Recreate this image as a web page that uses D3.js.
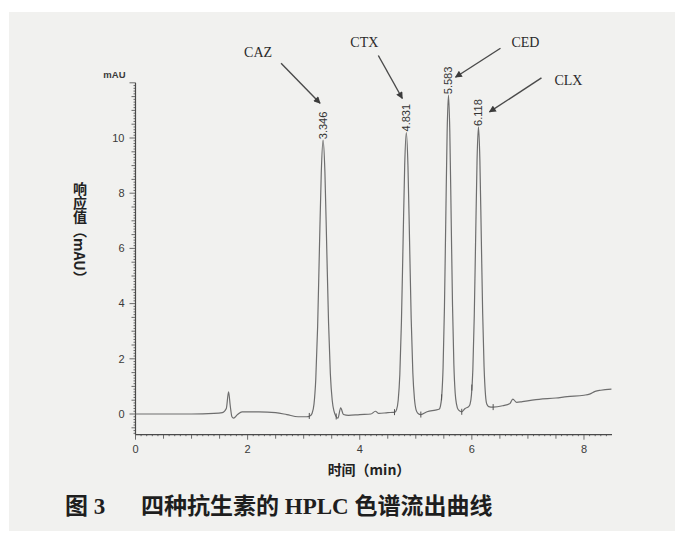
<!DOCTYPE html>
<html>
<head>
<meta charset="utf-8">
<script src="https://cdn.jsdelivr.net/npm/d3@7"></script>
<style>
  html, body { margin: 0; padding: 0; background: #ffffff; }
  svg { display: block; }
</style>
</head>
<body>
<svg id="chart" width="684" height="539"></svg>
<script>
// trace: [time (min), response (mAU)]
const trace = [
  [0.00, 0.00], [0.50, 0.00], [1.00, 0.00], [1.40, 0.02], [1.55, 0.05],
  [1.62, 0.20], [1.66, 0.80], [1.69, 0.30], [1.72, -0.10], [1.75, -0.15],
  [1.82, -0.02], [1.90, 0.08], [2.20, 0.08], [2.50, 0.05], [2.70, -0.02],
  [2.90, -0.10], [3.05, -0.10],
  [3.118, -0.06], [3.151, 0.03], [3.184, 0.36], [3.216, 1.27], [3.249, 3.17],
  [3.281, 5.99], [3.314, 8.75], [3.346, 9.92], [3.379, 8.75], [3.411, 6.05],
  [3.444, 3.30], [3.476, 1.45], [3.509, 0.50], [3.541, 0.10], [3.575, -0.08],
  [3.61, -0.15], [3.66, 0.22], [3.71, -0.02], [3.80, -0.05], [4.00, -0.02],
  [4.20, 0.00], [4.28, 0.10], [4.34, 0.02], [4.50, 0.05], [4.60, 0.06],
  [4.628, 0.07], [4.657, 0.16], [4.686, 0.50], [4.715, 1.42], [4.744, 3.35],
  [4.773, 6.21], [4.802, 9.01], [4.831, 10.20], [4.860, 9.01], [4.889, 6.25],
  [4.918, 3.45], [4.947, 1.50], [4.976, 0.55], [5.005, 0.15], [5.04, 0.02],
  [5.09, -0.02], [5.20, 0.08], [5.35, 0.14],
  [5.415, 0.17], [5.439, 0.28], [5.463, 0.65], [5.487, 1.69], [5.511, 3.85],
  [5.535, 7.06], [5.559, 10.21], [5.583, 11.55], [5.607, 10.21], [5.631, 7.10],
  [5.655, 3.95], [5.679, 1.80], [5.703, 0.75], [5.727, 0.35], [5.76, 0.15],
  [5.82, 0.08], [5.88, 0.20],
  [5.943, 0.27], [5.968, 0.36], [5.993, 0.70], [6.018, 1.62], [6.043, 3.55],
  [6.068, 6.41], [6.093, 9.21], [6.118, 10.40], [6.143, 9.21], [6.168, 6.45],
  [6.193, 3.65], [6.218, 1.70], [6.243, 0.70], [6.268, 0.35], [6.30, 0.27],
  [6.38, 0.25], [6.55, 0.30], [6.68, 0.38], [6.73, 0.54], [6.80, 0.42],
  [6.90, 0.45], [7.20, 0.53], [7.50, 0.58], [7.70, 0.63], [8.00, 0.68],
  [8.10, 0.72], [8.20, 0.82], [8.30, 0.86], [8.49, 0.90]
];

const peakNames = ['CAZ', 'CTX', 'CED', 'CLX'];
const peakTimes = [3.346, 4.831, 5.583, 6.118];
const peakHeights = [9.92, 10.20, 11.55, 10.40];

// integration start/stop marks on the trace
const markTimes = [3.10, 3.58, 4.62, 5.09, 5.46, 5.82, 6.00, 6.38];

const xTickValues = [0, 2, 4, 6, 8];
const yTickValues = [0, 2, 4, 6, 8, 10];
const yUnitTick = 12;

const xTitle = '时间（min）';
const yTitle = '响应值（mAU）';
const captionNo = '图 3';
const captionText = '四种抗生素的 HPLC 色谱流出曲线';

const svg = d3.select('#chart');

svg.append('rect')
  .attr('x', 9).attr('y', 12)
  .attr('width', 666).attr('height', 519)
  .attr('fill', '#f1f1ef');

const x = d3.scaleLinear().domain([0, 8.5]).range([135.5, 612]);
const y = d3.scaleLinear().domain([-0.75, 12]).range([434.7, 82.8]);

const axisColor = '#4a4a4a';
const sans = '"Liberation Sans", Arial, sans-serif';

// y axis: minor ticks every 0.1, medium every 0.5, labelled every 2
const yAxisG = svg.append('g').attr('transform', `translate(${x(0)},0)`);
yAxisG.append('line')
  .attr('y1', y(yUnitTick)).attr('y2', y(-0.75))
  .attr('stroke', axisColor).attr('stroke-width', 1.2);

const yMinor = d3.range(-7, 121).map((i) => i / 10);
yAxisG.selectAll('.ytick')
  .data(yMinor)
  .enter()
  .append('line')
  .attr('class', 'ytick')
  .attr('x1', (d) => {
    const r = Math.round(d * 10);
    if (r % 20 == 0) return -6;
    if (r % 5 == 0) return -4;
    return -2;
  })
  .attr('x2', 0)
  .attr('y1', (d) => y(d)).attr('y2', (d) => y(d))
  .attr('stroke', axisColor).attr('stroke-width', 0.8);

yAxisG.selectAll('.ylabel')
  .data(yTickValues)
  .enter()
  .append('text')
  .attr('class', 'ylabel')
  .attr('x', -11)
  .attr('y', (d) => y(d))
  .attr('dy', '0.35em')
  .attr('text-anchor', 'end')
  .attr('font-family', sans)
  .attr('font-size', 11)
  .attr('fill', '#3a3a3a')
  .text((d) => d);

yAxisG.append('text')
  .attr('x', -10)
  .attr('y', y(yUnitTick) - 5)
  .attr('text-anchor', 'end')
  .attr('font-family', sans)
  .attr('font-size', 9.5)
  .attr('font-weight', 'bold')
  .attr('fill', '#3a3a3a')
  .text('mAU');

// x axis: ticks below the line
const xAxisG = svg.append('g').attr('transform', `translate(0,${y(-0.75)})`);
xAxisG.append('line')
  .attr('x1', x(0)).attr('x2', x(8.5))
  .attr('stroke', axisColor).attr('stroke-width', 1.2);

const xMinor = d3.range(0, 85).map((i) => i / 10);
xAxisG.selectAll('.xtick')
  .data(xMinor)
  .enter()
  .append('line')
  .attr('class', 'xtick')
  .attr('x1', (d) => x(d)).attr('x2', (d) => x(d))
  .attr('y1', 0)
  .attr('y2', (d) => {
    const r = Math.round(d * 10);
    if (r % 20 == 0) return 5;
    if (r % 5 == 0) return 4;
    return 1.5;
  })
  .attr('stroke', axisColor).attr('stroke-width', 0.8);

xAxisG.selectAll('.xlabel')
  .data(xTickValues)
  .enter()
  .append('text')
  .attr('class', 'xlabel')
  .attr('x', (d) => x(d))
  .attr('y', 18)
  .attr('text-anchor', 'middle')
  .attr('font-family', sans)
  .attr('font-size', 11)
  .attr('fill', '#3a3a3a')
  .text((d) => d);

// chromatogram trace
const line = d3.line()
  .x((d) => x(d[0]))
  .y((d) => y(d[1]))
  .curve(d3.curveMonotoneX);

svg.append('path')
  .datum(trace)
  .attr('d', line)
  .attr('fill', 'none')
  .attr('stroke', '#6e6e6e')
  .attr('stroke-width', 1.2)
  .attr('stroke-linejoin', 'round');

const traceAt = (t) => {
  const i = d3.bisector((d) => d[0]).left(trace, t);
  const a = trace[Math.max(0, i - 1)], b = trace[Math.min(trace.length - 1, i)];
  if (a[0] == b[0]) return a[1];
  return a[1] + (b[1] - a[1]) * (t - a[0]) / (b[0] - a[0]);
};

svg.selectAll('.mark')
  .data(markTimes)
  .enter()
  .append('line')
  .attr('class', 'mark')
  .attr('x1', (d) => x(d)).attr('x2', (d) => x(d))
  .attr('y1', (d) => y(traceAt(d)) - 3)
  .attr('y2', (d) => y(traceAt(d)) + 3)
  .attr('stroke', '#555').attr('stroke-width', 1);

// retention time labels above each peak
const peaks = peakNames.map((name, i) => ({
  name: name, time: peakTimes[i], height: peakHeights[i]
}));

svg.selectAll('.rt')
  .data(peaks)
  .enter()
  .append('text')
  .attr('class', 'rt')
  .attr('transform', (d) => `translate(${x(d.time) + 4},${y(d.height) - 1}) rotate(-90)`)
  .attr('font-family', sans)
  .attr('font-size', 11)
  .attr('fill', '#333')
  .text((d) => d.time.toFixed(3));

// compound name + arrow, placed relative to the peak top
const callout = {
  CAZ: { tip: [-3, -37], tail: [-42, -77], label: [-65, -83] },
  CTX: { tip: [-4, -34], tail: [-28, -77], label: [-42, -85] },
  CED: { tip: [7, -18], tail: [52, -47], label: [77, -48] },
  CLX: { tip: [11, -15], tail: [63, -49], label: [90, -42] }
};

const defs = svg.append('defs');
defs.append('marker')
  .attr('id', 'arrow')
  .attr('viewBox', '0 0 10 10')
  .attr('refX', 9).attr('refY', 5)
  .attr('markerWidth', 9).attr('markerHeight', 7)
  .attr('markerUnits', 'userSpaceOnUse')
  .attr('orient', 'auto')
  .append('path')
  .attr('d', 'M0,0 L10,5 L0,10 z')
  .attr('fill', '#3c3c3c');

const callouts = svg.selectAll('.callout')
  .data(peaks)
  .enter()
  .append('g')
  .attr('class', 'callout');

callouts.append('line')
  .attr('x1', (d) => x(d.time) + callout[d.name].tail[0])
  .attr('y1', (d) => y(d.height) + callout[d.name].tail[1])
  .attr('x2', (d) => x(d.time) + callout[d.name].tip[0])
  .attr('y2', (d) => y(d.height) + callout[d.name].tip[1])
  .attr('stroke', '#4a4a4a')
  .attr('stroke-width', 1.4)
  .attr('marker-end', 'url(#arrow)');

callouts.append('text')
  .attr('x', (d) => x(d.time) + callout[d.name].label[0])
  .attr('y', (d) => y(d.height) + callout[d.name].label[1])
  .attr('text-anchor', 'middle')
  .attr('font-family', '"Liberation Serif", "Times New Roman", serif')
  .attr('font-size', 14)
  .attr('fill', '#2a2a2a')
  .text((d) => d.name);

// axis titles
svg.append('text')
  .attr('x', 369)
  .attr('y', 475)
  .attr('text-anchor', 'middle')
  .attr('font-family', '"Noto Sans CJK SC", sans-serif')
  .attr('font-size', 14)
  .attr('font-weight', 'bold')
  .attr('fill', '#222')
  .text(xTitle);

svg.append('text')
  .attr('x', 80)
  .attr('y', 182)
  .attr('font-family', '"Noto Sans CJK SC", sans-serif')
  .attr('font-size', 14)
  .attr('font-weight', 'bold')
  .attr('fill', '#222')
  .style('writing-mode', 'vertical-rl')
  .text(yTitle);

// figure caption
const caption = svg.append('text')
  .attr('y', 514)
  .attr('font-family', '"Liberation Serif", "Noto Sans CJK SC", serif')
  .attr('font-size', 23)
  .attr('font-weight', 'bold')
  .attr('fill', '#1e1e1e');
caption.append('tspan').attr('x', 65).text(captionNo);
caption.append('tspan').attr('x', 141).text(captionText);
</script>
</body>
</html>
